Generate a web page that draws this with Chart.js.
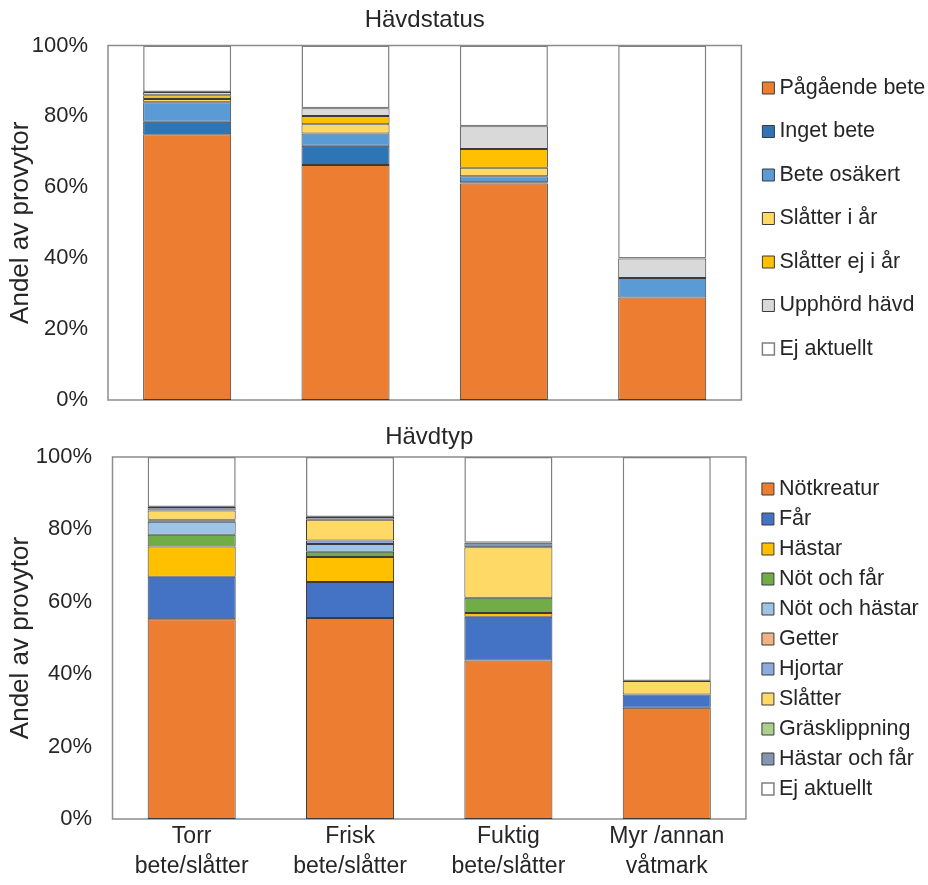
<!DOCTYPE html>
<html>
<head>
<meta charset="utf-8">
<script src="https://cdn.jsdelivr.net/npm/chart.js@4/dist/chart.umd.min.js"></script>
<style>
  body { margin: 0; background: #fff; }
  #wrap { position: relative; width: 928px; height: 885px; }
  #boxStatus { position: absolute; left: 0; top: 0; width: 928px; height: 415px; }
  #boxTyp { position: absolute; left: 0; top: 415px; width: 928px; height: 470px; }
</style>
</head>
<body>
<div id="wrap">
  <div id="boxStatus"><canvas id="chartStatus"></canvas></div>
  <div id="boxTyp"><canvas id="chartTyp"></canvas></div>
</div>
<script>
const kategorier = [['Torr', 'bete/slåtter'], ['Frisk', 'bete/slåtter'], ['Fuktig', 'bete/slåtter'], ['Myr /annan', 'våtmark']];
const yTicks = [0, 20, 40, 60, 80, 100];

// Hävdstatus (andel i procent)
const pagaendeBete = [75.0, 66.3, 61.1, 28.9];
const ingetBete = [3.5, 5.4, 0.3, 0];
const beteOsakert = [5.5, 3.5, 1.7, 5.5];
const slatterIAr = [0.9, 2.6, 2.4, 0];
const slatterEjIAr = [1.1, 2.3, 5.3, 0];
const upphordHavd = [0.9, 2.2, 6.4, 5.5];
const ejAktuelltStatus = [13.1, 17.7, 22.8, 60.1];

// Hävdtyp (andel i procent)
const notkreatur = [55.2, 55.5, 43.8, 30.7];
const far = [11.7, 10.0, 12.1, 3.7];
const hastar = [8.4, 6.9, 1.0, 0];
const notOchFar = [3.2, 1.4, 4.2, 0];
const notOchHastar = [3.6, 2.2, 0, 0];
const getter = [0.3, 0, 0, 0];
const hjortar = [0.3, 0.9, 0, 0];
const slatter = [2.5, 5.8, 14.0, 3.7];
const grasklippning = [0, 0, 0, 0];
const hastarOchFar = [1.0, 0.7, 1.2, 0];
const ejAktuelltTyp = [13.8, 16.6, 23.7, 61.9];

const FONT = 'Liberation Sans, Arial, sans-serif';
const TEXT = '#262626';

function serie(label, data, farg, kant) {
    return {
        label: label,
        data: data,
        backgroundColor: farg,
        borderColor: kant || '#3b3b3b',
        borderWidth: kant ? 1.5 : 1,
        borderSkipped: false,
        pointStyle: 'rect',
        barPercentage: 0.556,
        categoryPercentage: 1
    };
}

// ram runt diagramytan
const ramPlugin = {
    id: 'ram',
    beforeDatasetsDraw(chart) {
        const a = chart.chartArea;
        const ctx = chart.ctx;
        ctx.save();
        ctx.strokeStyle = '#8c8c8c';
        ctx.lineWidth = 1.5;
        ctx.strokeRect(a.left, a.top, a.right - a.left, a.bottom - a.top);
        ctx.restore();
    }
};

// flyttar förklaringen en bit åt höger, bort från diagramytan
const legendFlytt = {
    id: 'legendFlytt',
    afterLayout(chart, args, opts) {
        if (chart.legend) {
            chart.legend.left += opts.dx;
            chart.legend.right += opts.dx;
        }
    }
};

// o = { titelTopp, titelBotten, legendPadding, legendOffset, legendDx, yBredd, tickPadding, xPadding, padding }
function alternativ(titel, visaX, o) {
    return {
        responsive: true,
        maintainAspectRatio: false,
        animation: false,
        layout: { padding: o.padding },
        plugins: {
            title: {
                display: true,
                fullSize: false,
                text: titel,
                color: TEXT,
                font: { family: FONT, size: 24, weight: 'normal' },
                padding: { top: o.titelTopp, bottom: o.titelBotten }
            },
            legend: {
                position: 'right',
                align: 'start',
                title: {
                    display: true,
                    text: ' ',
                    font: { family: FONT, size: 10 },
                    padding: { top: o.legendOffset, bottom: 0 }
                },
                labels: {
                    color: TEXT,
                    font: { family: FONT, size: 21.5 },
                    usePointStyle: true,
                    boxWidth: 0.5,
                    boxHeight: 12,
                    padding: o.legendPadding
                }
            },
            legendFlytt: { dx: o.legendDx },
            tooltip: { enabled: false }
        },
        scales: {
            x: {
                stacked: true,
                grid: { display: false, drawTicks: false },
                border: { display: false },
                ticks: {
                    display: visaX,
                    color: TEXT,
                    font: { family: FONT, size: 23, lineHeight: 1.3 },
                    maxRotation: 0,
                    padding: o.xPadding
                }
            },
            y: {
                stacked: true,
                min: 0,
                max: 100,
                grid: { display: false, drawTicks: false },
                border: { display: false },
                afterBuildTicks: function(axis) {
                    axis.ticks = yTicks.map(v => ({ value: v }));
                },
                afterFit: function(axis) {
                    axis.width = o.yBredd;
                    axis.paddingTop = 0;
                    axis.paddingBottom = 0;
                },
                ticks: {
                    color: TEXT,
                    font: { family: FONT, size: 22 },
                    padding: o.tickPadding,
                    callback: function(value) {
                        return value + '%';
                    }
                },
                title: {
                    display: true,
                    text: 'Andel av provytor',
                    color: TEXT,
                    font: { family: FONT, size: 26 },
                    padding: { top: 0, bottom: 0 }
                }
            }
        }
    };
}

new Chart(document.getElementById('chartStatus'), {
    type: 'bar',
    data: {
        labels: kategorier,
        datasets: [
            serie('Pågående bete', pagaendeBete, '#ED7D31'),
            serie('Inget bete', ingetBete, '#2E75B6'),
            serie('Bete osäkert', beteOsakert, '#5B9BD5'),
            serie('Slåtter i år', slatterIAr, '#FFD966'),
            serie('Slåtter ej i år', slatterEjIAr, '#FFC000'),
            serie('Upphörd hävd', upphordHavd, '#D9D9D9'),
            serie('Ej aktuellt', ejAktuelltStatus, '#FFFFFF', '#7f7f7f')
        ]
    },
    options: alternativ('Hävdstatus', false, {
        titelTopp: 6, titelBotten: 10.7,
        legendPadding: 22, legendOffset: 43.25, legendDx: 4.75,
        yBredd: 103, tickPadding: 20, xPadding: 0,
        padding: { left: 5, right: -2.5, top: 0, bottom: 15 }
    }),
    plugins: [ramPlugin, legendFlytt]
});

new Chart(document.getElementById('chartTyp'), {
    type: 'bar',
    data: {
        labels: kategorier,
        datasets: [
            serie('Nötkreatur', notkreatur, '#ED7D31'),
            serie('Får', far, '#4472C4'),
            serie('Hästar', hastar, '#FFC000'),
            serie('Nöt och får', notOchFar, '#70AD47'),
            serie('Nöt och hästar', notOchHastar, '#9DC3E6'),
            serie('Getter', getter, '#F4B183'),
            serie('Hjortar', hjortar, '#8FAADC'),
            serie('Slåtter', slatter, '#FFD966'),
            serie('Gräsklippning', grasklippning, '#A9D18E'),
            serie('Hästar och får', hastarOchFar, '#8497B0'),
            serie('Ej aktuellt', ejAktuelltTyp, '#FFFFFF', '#7f7f7f')
        ]
    },
    options: alternativ('Hävdtyp', true, {
        titelTopp: 7.6, titelBotten: 5.6,
        legendPadding: 8.5, legendOffset: 42.75, legendDx: 13.25,
        yBredd: 107.5, tickPadding: 20.5, xPadding: 3,
        padding: { left: 5, right: 12.5, top: 0, bottom: 0.2 }
    }),
    plugins: [ramPlugin, legendFlytt]
});
</script>
</body>
</html>
